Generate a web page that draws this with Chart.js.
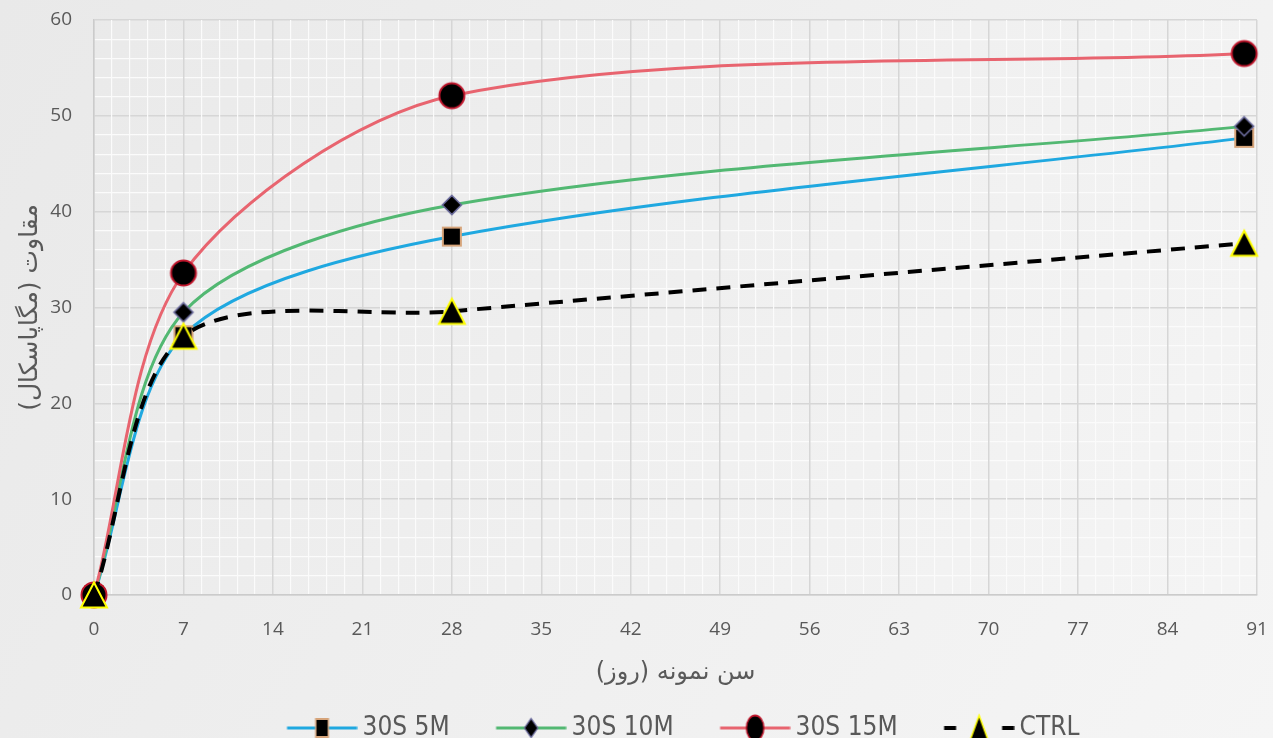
<!DOCTYPE html>
<html>
<head>
<meta charset="utf-8">
<script src="https://cdn.jsdelivr.net/npm/chart.js@4"></script>
<style>
  html, body { margin: 0; padding: 0; background: #efefef; }
  #wrap { width: 1273px; height: 738px; }
</style>
</head>
<body>
<div id="wrap"><canvas id="chart" width="1273" height="738"></canvas></div>
<script>
// Sample age (days) and strength (MPa) for each mix
const days = [0, 7, 28, 90];
const s5 = [0, 27.1, 37.4, 47.7];
const s10 = [0, 29.5, 40.7, 48.9];
const s15 = [0, 33.6, 52.1, 56.5];
const ctrl = [0, 27.0, 29.6, 36.7];
const seriesNames = ['30S 5M', '30S 10M', '30S 15M', 'CTRL'];
const xTickLabels = [0, 7, 14, 21, 28, 35, 42, 49, 56, 63, 70, 77, 84, 91];
const yTickLabels = [0, 10, 20, 30, 40, 50, 60];
const xTitle = 'سن نمونه (روز)';
const yTitle = 'مقاوت (مگاپاسکال)';

const RLM = '\u200F';
const TEXT = '#595959';
const MAJOR = '#d6d6d6';
const MINOR = '#fbfbfb';

// five minor divisions between labelled ticks
function withMinor(major) {
  const out = [];
  for (let i = 0; i < major.length - 1; i++) {
    const a = major[i], b = major[i + 1];
    for (let k = 0; k < 5; k++) out.push(+(a + (b - a) * k / 5).toFixed(4));
  }
  out.push(major[major.length - 1]);
  return out;
}
const isMajorOf = (list) => (v) => list.some(m => Math.abs(m - v) < 1e-6);
const isMajorX = isMajorOf(xTickLabels);
const isMajorY = isMajorOf(yTickLabels);

// marker glyphs
function drawMarker(ctx, kind, cx, cy, sx) {
  ctx.save();
  ctx.translate(cx, cy);
  ctx.scale(sx, 1);
  ctx.beginPath();
  if (kind === 'square') {
    ctx.rect(-9, -9, 18, 18);
    ctx.fillStyle = '#000'; ctx.fill();
    ctx.lineWidth = 2; ctx.strokeStyle = '#d6a47a'; ctx.stroke();
  } else if (kind === 'diamond') {
    ctx.moveTo(0, -9.5); ctx.lineTo(9.5, 0); ctx.lineTo(0, 9.5); ctx.lineTo(-9.5, 0); ctx.closePath();
    ctx.fillStyle = '#000'; ctx.fill();
    ctx.lineWidth = 1.6; ctx.strokeStyle = '#6a6a9c'; ctx.stroke();
  } else if (kind === 'circle') {
    ctx.arc(0, 0, 12.5, 0, Math.PI * 2);
    ctx.fillStyle = '#000'; ctx.fill();
    ctx.lineWidth = 2; ctx.strokeStyle = '#c0162c'; ctx.stroke();
  } else {
    ctx.moveTo(0, -12.5); ctx.lineTo(13, 12.5); ctx.lineTo(-13, 12.5); ctx.closePath();
    ctx.fillStyle = '#000'; ctx.fill();
    ctx.lineWidth = 2; ctx.strokeStyle = '#ffff00'; ctx.stroke();
  }
  ctx.restore();
}
function markerCanvas(kind) {
  const c = document.createElement('canvas');
  c.width = 32; c.height = 32;
  drawMarker(c.getContext('2d'), kind, 16, 16, 1);
  return c;
}
// legend swatch: a 70px line with the marker in its middle
function legendCanvas(kind, color, dashed) {
  const c = document.createElement('canvas');
  c.width = 94; c.height = 30;
  const ctx = c.getContext('2d');
  ctx.strokeStyle = color;
  const x0 = 23.5, x1 = 93.5, mid = (x0 + x1) / 2;
  if (dashed) {
    ctx.lineWidth = 4;
    ctx.beginPath(); ctx.moveTo(x0, 15); ctx.lineTo(x0 + 12, 15); ctx.stroke();
    ctx.beginPath(); ctx.moveTo(x1 - 12, 15); ctx.lineTo(x1, 15); ctx.stroke();
  } else {
    ctx.lineWidth = 3;
    ctx.beginPath(); ctx.moveTo(x0, 15); ctx.lineTo(x1, 15); ctx.stroke();
  }
  drawMarker(ctx, kind, mid, 15, 0.7);
  return c;
}

const kinds = ['square', 'diamond', 'circle', 'triangle'];
const colors = ['#1fa8e0', '#52b872', '#e8646f', '#000000'];
const values = [s5, s10, s15, ctrl];
const markers = kinds.map(markerCanvas);
const legendIcons = kinds.map((k, i) => legendCanvas(k, colors[i], i === 3));

const datasets = values.map((vals, i) => ({
  label: seriesNames[i],
  data: days.map((d, j) => ({ x: d, y: vals[j] })),
  borderColor: colors[i],
  backgroundColor: colors[i],
  borderWidth: i === 3 ? 4 : 3,
  borderDash: i === 3 ? [14, 10] : [],
  pointStyle: markers[i],
  pointRadius: 12,
  pointHoverRadius: 12,
  tension: 0.3,
  fill: false,
  clip: false,
  order: 3 - i
}));

const backdrop = {
  id: 'backdrop',
  beforeDraw(chart) {
    const { ctx, width, height } = chart;
    const g = ctx.createLinearGradient(0, 0, width, height);
    g.addColorStop(0, '#e9e9e9');
    g.addColorStop(1, '#f5f5f5');
    ctx.save();
    ctx.fillStyle = g;
    ctx.fillRect(0, 0, width, height);
    ctx.restore();
  }
};

new Chart(document.getElementById('chart'), {
  type: 'line',
  data: { datasets },
  plugins: [backdrop],
  options: {
    responsive: false,
    animation: false,
    devicePixelRatio: 1,
    layout: { padding: { left: 0, right: 11, top: 20, bottom: -13 } },
    plugins: {
      tooltip: { enabled: false },
      legend: {
        position: 'bottom',
        fullSize: false,
        labels: {
          usePointStyle: true,
          pointStyleWidth: 78,
          padding: 31,
          color: TEXT,
          font: { family: "'Liberation Sans Narrow', 'DejaVu Sans Condensed', sans-serif", size: 26 },
          sort: (a, b) => a.datasetIndex - b.datasetIndex,
          generateLabels: (chart) => Chart.defaults.plugins.legend.labels.generateLabels(chart)
            .map(item => Object.assign(item, { pointStyle: legendIcons[item.datasetIndex] }))
        }
      }
    },
    scales: {
      y: {
        type: 'linear',
        min: 0,
        max: 60,
        afterBuildTicks: (s) => { s.ticks = withMinor(yTickLabels).map(v => ({ value: v })); },
        afterFit: (s) => { s.width = 94; s.paddingTop = 0; s.paddingBottom = 0; },
        ticks: {
          autoSkip: false,
          padding: 22,
          color: TEXT,
          font: { family: "'Open Sans', sans-serif", size: 19 },
          callback: (v) => isMajorY(v) ? String(Math.round(v)) : ''
        },
        grid: {
          drawTicks: false,
          color: (c) => isMajorY(c.tick.value) ? MAJOR : MINOR,
          lineWidth: (c) => isMajorY(c.tick.value) ? 1.5 : 1.2
        },
        border: { color: '#cbcbcb', width: 1.5 },
        title: {
          display: true,
          text: yTitle + RLM,
          color: TEXT,
          font: { family: "'DejaVu Sans', sans-serif", size: 25 },
          padding: { top: 15, bottom: 0 }
        }
      },
      x: {
        type: 'linear',
        min: 0,
        max: 91,
        afterBuildTicks: (s) => { s.ticks = withMinor(xTickLabels).map(v => ({ value: v })); },
        afterFit: (s) => { s.height = 89; s.paddingLeft = 0; s.paddingRight = 0; },
        ticks: {
          autoSkip: false,
          maxRotation: 0,
          padding: 23,
          color: TEXT,
          font: { family: "'Open Sans', sans-serif", size: 19 },
          callback: (v) => isMajorX(v) ? String(Math.round(v)) : ''
        },
        grid: {
          drawTicks: false,
          color: (c) => isMajorX(c.tick.value) ? MAJOR : MINOR,
          lineWidth: (c) => isMajorX(c.tick.value) ? 1.5 : 1.2
        },
        border: { color: '#cbcbcb', width: 1.5 },
        title: {
          display: true,
          text: xTitle + RLM,
          color: TEXT,
          font: { family: "'DejaVu Sans', sans-serif", size: 24 },
          padding: { top: 0, bottom: -3 }
        }
      }
    }
  }
});
</script>
</body>
</html>
